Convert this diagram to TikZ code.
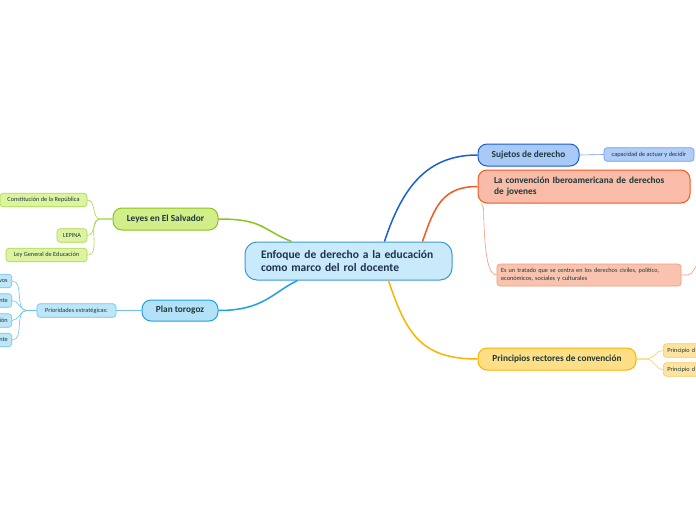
\documentclass[tikz,border=0pt]{standalone}
\usepackage{fontspec}
\setmainfont{Carlito}
\definecolor{eduNavy}{HTML}{1E3050}
\definecolor{eduInk}{HTML}{1C3838}
\definecolor{eduRootFill}{HTML}{C8EAFB}
\definecolor{eduRootLine}{HTML}{3B9AD9}
\definecolor{eduLeyLine}{HTML}{8DC21F}
\definecolor{eduLeyFill}{HTML}{D2EE8A}
\definecolor{eduLeyEdge}{HTML}{A8D84A}
\definecolor{eduLeyLeaf}{HTML}{DDF3A0}
\definecolor{eduPlanLine}{HTML}{1EA0E6}
\definecolor{eduPlanFill}{HTML}{B3E2F8}
\definecolor{eduPlanEdge}{HTML}{6CC4EE}
\definecolor{eduPlanLeaf}{HTML}{BDE6F8}
\definecolor{eduSujLine}{HTML}{1A5FD0}
\definecolor{eduSujFill}{HTML}{A9C9F7}
\definecolor{eduSujEdge}{HTML}{6C9EEE}
\definecolor{eduSujLeaf}{HTML}{AFCDF8}
\definecolor{eduConvLine}{HTML}{F25A22}
\definecolor{eduConvFill}{HTML}{F8BCA8}
\definecolor{eduConvEdge}{HTML}{F59A7A}
\definecolor{eduConvLeaf}{HTML}{F9C3B0}
\definecolor{eduPrinLine}{HTML}{FBB400}
\definecolor{eduPrinFill}{HTML}{FFDF85}
\definecolor{eduPrinEdge}{HTML}{F8CB60}
\definecolor{eduPrinLeaf}{HTML}{FFE3A0}
\tikzset{
  edu root/.style={draw=eduRootLine, fill=eduRootFill, line width=1pt, rounded corners=12pt, minimum height=38pt, text width=175pt, inner xsep=16pt, align=left, font=\fontsize{11.5}{13.5}\selectfont\bfseries, text=eduNavy},
  edu topic/.style={line width=1pt, rounded corners=9pt, minimum height=22pt, inner sep=2pt, font=\fontsize{9.3}{11}\selectfont\bfseries, text=eduInk},
  edu leaf/.style={line width=0.6pt, rounded corners=3pt, minimum height=13.5pt, inner xsep=4pt, inner ysep=1pt, font=\fontsize{6.3}{8}\selectfont, text=eduInk},
  edu main/.style={line width=1.5pt},
  edu twig/.style={line width=0.6pt},
}
\begin{document}
\begin{tikzpicture}[x=1pt,y=-1pt]
  \useasboundingbox[fill=white] (0,0) rectangle (696,520);
  \node[edu root] (root) at (348.5,261) {Enfoque de derecho a la educación\\como marco del rol docente};
  % topics
  \node[edu topic, draw=eduLeyLine, fill=eduLeyFill, minimum width=105pt] (leyes) at (165.5,219) {Leyes en El Salvador};
  \node[edu topic, draw=eduPlanLine, fill=eduPlanFill, minimum width=76pt, minimum height=21pt] (plan) at (180,310.5) {Plan torogoz};
  \node[edu topic, draw=eduSujLine, fill=eduSujFill, minimum width=101pt] (sujetos) at (528.5,155) {Sujetos de derecho};
  \node[edu topic, draw=eduConvLine, fill=eduConvFill, minimum height=33pt, text width=180pt, inner xsep=16pt, align=left] (conv) at (584,186.5) {La convención Iberoamericana de derechos\\de jovenes};
  \node[edu topic, draw=eduPrinLine, fill=eduPrinFill, minimum width=158pt] (principios) at (557,359) {Principios rectores de convención};
  % leaves
  \node[edu leaf, draw=eduLeyEdge, fill=eduLeyLeaf, minimum width=87pt] (constitucion) at (43.5,200) {Constitución de la República};
  \node[edu leaf, draw=eduLeyEdge, fill=eduLeyLeaf, minimum width=30pt] (lepina) at (72,235.5) {LEPINA};
  \node[edu leaf, draw=eduLeyEdge, fill=eduLeyLeaf, minimum width=81pt] (leygeneral) at (46.5,255) {Ley General de Educación};
  \node[edu leaf, draw=eduPlanEdge, fill=eduPlanLeaf, minimum width=79pt] (prioridades) at (76.5,310.5) {Prioridades estratégicas:};
  \foreach \y/\t/\n in {281/vos/prio1, 300.5/nte/prio2, 320.5/ión/prio3, 340/nte/prio4}
    \node[edu leaf, draw=eduPlanEdge, fill=eduPlanLeaf, text width=30pt, align=right, anchor=east] (\n) at (12,\y) {\t};
  \node[edu leaf, draw=eduSujEdge, fill=eduSujLeaf, minimum width=90pt] (capacidad) at (649,154.5) {capacidad de actuar y decidir};
  \node[edu leaf, draw=eduConvEdge, fill=eduConvLeaf, minimum height=22pt, text width=176pt, inner xsep=4pt, align=left] (tratado) at (589,275) {Es un tratado que se centra en los derechos civiles, político,\\económicos, sociales y culturales};
  \foreach \y/\n in {350.5/rector1, 369.5/rector2}
    \node[edu leaf, draw=eduPrinEdge, fill=eduPrinLeaf, text width=40pt, align=left, anchor=west] (\n) at (663,\y) {Principio d};
  \coordinate (tratadoEdge) at (700,263);
  % main branches
  \draw[edu main, eduLeyLine] (leyes.east) .. controls +(45,0) and +(-30,-12) .. ([xshift=47pt]root.north west);
  \draw[edu main, eduPlanLine] (plan.east) .. controls +(45,0) and +(-25,12) .. ([xshift=53pt]root.south west);
  \draw[edu main, eduSujLine] ([xshift=140pt]root.north west) .. controls +(18,-55) and +(-50,0) .. (sujetos.west);
  \draw[edu main, eduConvLine] ([xshift=178pt]root.north west) .. controls +(12,-35) and +(-35,0) .. (conv.west);
  \draw[edu main, eduPrinLine] ([xshift=144pt]root.south west) .. controls +(18,55) and +(-55,0) .. (principios.west);
  % twigs
  \foreach \n in {constitucion,lepina,leygeneral}
    \draw[edu twig, eduLeyEdge] (leyes.west) -- ++(-12,0) to[out=180,in=0] (\n.east);
  \draw[edu twig, eduPlanEdge] (plan.west) -- (prioridades.east);
  \foreach \n in {prio1,prio2,prio3,prio4}
    \draw[edu twig, eduPlanEdge] (prioridades.west) -- ++(-10,0) to[out=180,in=0] (\n.east);
  \draw[edu twig, eduSujEdge] (sujetos.east) -- (capacidad.west);
  \draw[edu twig, eduConvEdge] ([xshift=4pt]conv.south west) -- ++(2,5) .. controls +(1,50) and +(-8,0) .. (tratado.west);
  \draw[edu twig, eduConvEdge] (tratado.east) -- ++(6,0) to[out=0,in=200] (tratadoEdge);
  \foreach \n in {rector1,rector2}
    \draw[edu twig, eduPrinEdge] (principios.east) -- ++(10,0) to[out=0,in=180] (\n.west);
\end{tikzpicture}
\end{document}
